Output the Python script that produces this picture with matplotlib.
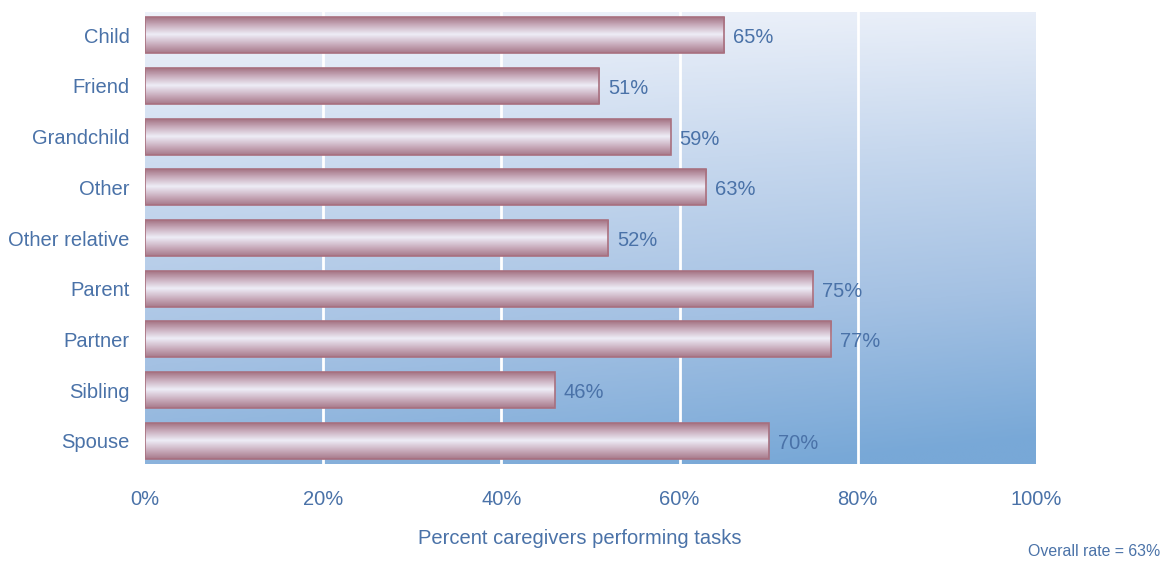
import numpy as np
import matplotlib.pyplot as plt
from matplotlib.colors import LinearSegmentedColormap

plt.rcParams['font.family'] = ['Liberation Sans', 'DejaVu Sans']

relations = ['Child', 'Friend', 'Grandchild', 'Other', 'Other relative',
             'Parent', 'Partner', 'Sibling', 'Spouse']
percent = [65, 51, 59, 63, 52, 75, 77, 46, 70]
xticks = [0, 20, 40, 60, 80, 100]
overall = 63

text_col = '#4a72a8'
bar_h = 0.71
fs = 14.5

fig = plt.figure(figsize=(11.67, 5.61), dpi=100)
ax = fig.add_axes([145 / 1167, 1 - 464 / 561, 891 / 1167, 452 / 561])
ylo, yhi = len(relations) - 0.54, -0.46

# backdrop: light at the top, blue towards the bottom right
yy, xx = np.mgrid[0:1:200j, 0:1:200j]
t = np.clip(0.85 * yy + 0.15 * xx * yy + 0.05 * xx, 0, 1)
bg_cmap = LinearSegmentedColormap.from_list('bg', ['#eef2fa', '#c7d8ee', '#a4c1e3', '#78a8d7'])
ax.imshow(bg_cmap(t), extent=[0, 100, ylo, yhi],
          aspect='auto', zorder=0, interpolation='bilinear')

for gx in xticks[1:-1]:
    ax.axvline(gx, color='white', lw=2, zorder=1)

# cylinder shading for the bars
bar_cmap = LinearSegmentedColormap.from_list(
    'bar', [(0.0, '#a57585'), (0.2, '#c6a8b8'), (0.48, '#eeedf7'),
            (0.75, '#cbb0c0'), (1.0, '#a87a8b')])
shade = bar_cmap(np.linspace(0, 1, 64))[:, None, :]

bars = ax.barh(range(len(relations)), percent, height=bar_h,
               facecolor='none', edgecolor='#a8707f', lw=1.2, zorder=3)
for i, (b, v) in enumerate(zip(bars, percent)):
    ax.imshow(shade, extent=[0, v, i + bar_h / 2, i - bar_h / 2],
              aspect='auto', zorder=2, interpolation='bilinear')
    ax.text(v + 1.0, i + 0.05, f'{v}%', va='center', ha='left',
            color=text_col, fontsize=fs, zorder=4)

ax.set_ylim(ylo, yhi)
ax.set_xlim(0, 100)
ax.set_yticks(range(len(relations)))
ax.set_yticklabels(relations, fontsize=fs, color=text_col)
ax.set_xticks(xticks)
ax.set_xticklabels([f'{x}%' for x in xticks], fontsize=fs, color=text_col)
ax.tick_params(axis='y', length=0, pad=11)
ax.tick_params(axis='x', length=0, pad=19)
for s in ax.spines.values():
    s.set_visible(False)
ax.set_xlabel('Percent caregivers performing tasks', fontsize=fs,
              color=text_col)
ax.xaxis.set_label_coords(0.488, -0.144)

fig.text(1160 / 1167, 1 - 552 / 561, f'Overall rate = {overall}%', ha='right',
         va='center', fontsize=11.4, color=text_col)

fig.savefig('out.png', dpi=100)
